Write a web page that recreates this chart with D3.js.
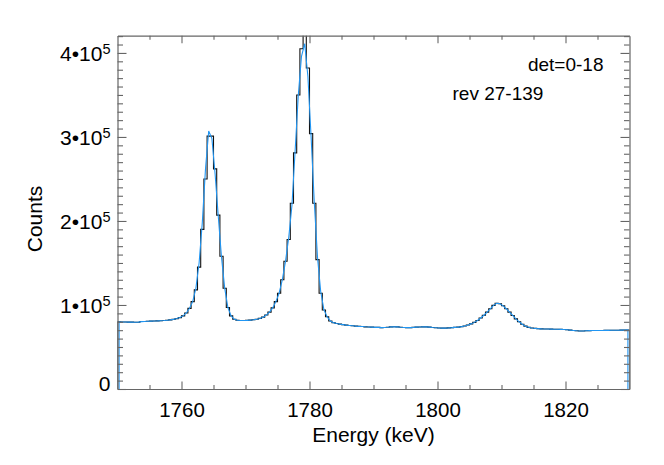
<!DOCTYPE html>
<html>
<head>
<meta charset="utf-8">
<script src="https://cdn.jsdelivr.net/npm/d3@7"></script>
<style>
  html, body { margin: 0; padding: 0; background: #fff; }
  svg { display: block; font-family: "Liberation Sans", Arial, Helvetica, sans-serif; }
</style>
</head>
<body>
<svg id="chart" width="664" height="465"></svg>
<script>
// ---------------- data ----------------
const binStart = 1750;      // keV, left edge of first bin
const binWidth = 0.5;       // keV
// histogram counts per 0.5 keV bin, 1750.0 ... 1829.5 (left edges)
const counts = [
  80000, 79800, 79700, 79600, 79600, 79500, 79400, 80300, 80400, 80600,   // 1750-1754.5
  80800, 81000, 81100, 81300, 81500, 81800, 82300, 82900, 83800, 85000,   // 1755-1759.5
  87000, 90500, 96000, 104000, 118000, 145000, 190000, 250000, 301000, 301000, // 1760-1764.5
  262000, 207000, 158000, 120000, 97000, 87000, 83000, 81800, 81500, 81500,  // 1765-1769.5
  81700, 82000, 82400, 83000, 84000, 85500, 88000, 91500, 96500, 104000,    // 1770-1774.5
  114000, 130000, 152000, 178000, 221000, 281000, 350000, 405000, 445000, 382000, // 1775-1779.5
  304000, 221000, 154000, 114000, 94000, 86000, 81000, 79000, 78000, 77200, // 1780-1784.5
  76600, 76000, 75600, 75200, 74800, 74500, 74300, 74000, 73800, 73600,     // 1785-1789.5
  73400, 73300, 73100, 73200, 73500, 73900, 74100, 73900, 73500, 73200,     // 1790-1794.5
  73000, 73100, 73300, 73600, 73800, 74000, 73900, 73600, 73200, 72900,     // 1795-1799.5
  72600, 72400, 72500, 72700, 73000, 73400, 73600, 74200, 75000, 76200,     // 1800-1804.5
  77500, 79300, 81500, 84500, 87800, 91500, 95500, 99500, 102000, 101500,   // 1805-1809.5
  99000, 95500, 91500, 87500, 83500, 80000, 77000, 74800, 73400, 72600,     // 1810-1814.5
  72100, 71800, 71600, 71500, 71400, 71300, 71200, 71100, 71000, 70800,     // 1815-1819.5
  70500, 70100, 69700, 69300, 69000, 69100, 69300, 69500, 69600, 69600,     // 1820-1824.5
  69700, 69700, 69800, 69800, 69900, 69900, 70000, 70100, 70200, 70300      // 1825-1829.5
];
// fitted model evaluated at bin centres 1750.25 ... 1829.75
const fit = [
  80000, 79800, 79700, 79600, 79600, 79500, 79600, 80200, 80400, 80600,
  80800, 81000, 81100, 81300, 81500, 81800, 82300, 82900, 83800, 85000,
  87000, 90500, 96000, 104000, 120000, 150000, 198000, 262000, 307000, 298000,
  256000, 205000, 157000, 120000, 97000, 87000, 83000, 81800, 81500, 81500,
  81700, 82000, 82400, 83000, 84000, 85500, 88000, 91500, 96500, 104000,
  114000, 130000, 152000, 180000, 218000, 283000, 350000, 396000, 411000, 372000,
  300000, 222000, 157000, 116000, 94500, 86000, 81000, 79000, 78000, 77200,
  76600, 76000, 75600, 75200, 74800, 74500, 74300, 74000, 73800, 73600,
  73400, 73300, 73100, 73200, 73500, 73900, 74100, 73900, 73500, 73200,
  73000, 73100, 73300, 73600, 73800, 74000, 73900, 73600, 73200, 72900,
  72600, 72400, 72500, 72700, 73000, 73400, 73600, 74200, 75000, 76200,
  77500, 79300, 81500, 84500, 87800, 91500, 95500, 99500, 102000, 101500,
  99000, 95500, 91500, 87500, 83500, 80000, 77000, 74800, 73400, 72600,
  72100, 71800, 71600, 71500, 71400, 71300, 71200, 71100, 71000, 70800,
  70500, 70100, 69700, 69300, 69000, 69100, 69300, 69500, 69600, 69600,
  69700, 69700, 69800, 69800, 69900, 69900, 70000, 70100, 70200, 70300
];
const xMajorTicks = [1760, 1780, 1800, 1820];
const xMinorTicks = [1755, 1765, 1770, 1775, 1785, 1790, 1795, 1805, 1810, 1815, 1825];
const yMajorTicks = [0, 100000, 200000, 300000, 400000];
const yMinorStep = 10000;
const xDomain = [1750, 1830];
const yDomain = [0, 420500];
const xTitle = "Energy (keV)";
const yTitle = "Counts";
const notes = ["det=0-18", "rev 27-139"];

// ---------------- layout ----------------
const svg = d3.select("#chart");
const L = 117.5, R = 629.5, T = 35.7, B = 389;
const x = d3.scaleLinear().domain(xDomain).range([L, R]);
const y = d3.scaleLinear().domain(yDomain).range([B, T]);
const axisColor = "#666";

svg.append("defs").append("clipPath").attr("id", "clip")
  .append("rect").attr("x", L).attr("y", T).attr("width", R - L).attr("height", B - T);

// histogram step path
const nb = counts.length;
const stepPts = [{e: binStart, v: 0}];
counts.forEach((c, i) => stepPts.push({e: binStart + i * binWidth, v: c}));
stepPts.push({e: binStart + nb * binWidth, v: counts[nb - 1]});
stepPts.push({e: binStart + nb * binWidth, v: 0});

const plot = svg.append("g").attr("clip-path", "url(#clip)");
plot.append("path")
  .datum(stepPts)
  .attr("fill", "none")
  .attr("stroke", "#111")
  .attr("stroke-width", 1.1)
  .attr("d", d3.line().x(d => x(d.e)).y(d => y(d.v)).curve(d3.curveStepAfter));

// fit line
const fitPts = [{e: binStart + binWidth / 2, v: 0}];
fit.forEach((f, i) => fitPts.push({e: binStart + (i + 0.5) * binWidth, v: f}));
fitPts.push({e: binStart + (nb - 0.5) * binWidth, v: 0});
plot.append("path")
  .datum(fitPts)
  .attr("fill", "none")
  .attr("stroke", "#2196f3")
  .attr("stroke-width", 1.1)
  .attr("d", d3.line().x(d => x(d.e)).y(d => y(d.v)));

// ---------------- axes ----------------
function styleAxis(g) {
  g.select(".domain").attr("stroke", axisColor).attr("stroke-width", 1.2);
  g.selectAll(".tick line").attr("stroke", axisColor).attr("stroke-width", 1.1);
}
const yMinorTicks = d3.range(0, yDomain[1], yMinorStep).filter(v => v % 100000 !== 0);

// bottom
const gxb = svg.append("g").attr("transform", `translate(0,${B})`)
  .call(d3.axisBottom(x).tickValues(xMajorTicks).tickSizeInner(-7.5).tickSizeOuter(0)
    .tickPadding(13).tickFormat(d3.format("d")));
gxb.selectAll("text").attr("font-size", 20.5).attr("fill", "#000")
  .attr("font-family", "Liberation Sans, Arial, sans-serif");
styleAxis(gxb);
const gxbm = svg.append("g").attr("transform", `translate(0,${B})`)
  .call(d3.axisBottom(x).tickValues(xMinorTicks).tickSizeInner(-4).tickSizeOuter(0).tickFormat(""));
styleAxis(gxbm); gxbm.select(".domain").remove();

// top
const gxt = svg.append("g").attr("transform", `translate(0,${T})`)
  .call(d3.axisTop(x).tickValues(xMajorTicks).tickSizeInner(-7.5).tickSizeOuter(0).tickFormat(""));
styleAxis(gxt);
const gxtm = svg.append("g").attr("transform", `translate(0,${T})`)
  .call(d3.axisTop(x).tickValues(xMinorTicks).tickSizeInner(-4).tickSizeOuter(0).tickFormat(""));
styleAxis(gxtm); gxtm.select(".domain").remove();

// left
const gyl = svg.append("g").attr("transform", `translate(${L},0)`)
  .call(d3.axisLeft(y).tickValues(yMajorTicks).tickSizeInner(-9).tickSizeOuter(0).tickPadding(7)
    .tickFormat(d => d === 0 ? "0" : String(d / 100000)));
styleAxis(gyl);
gyl.selectAll(".tick text").each(function(d) {
  const t = d3.select(this);
  t.attr("font-size", 21).attr("fill", "#000").attr("dy", "0.37em")
   .attr("font-family", "Liberation Sans, Arial, sans-serif");
  if (d === 0) { t.text("0").attr("dy", "0.08em"); return; }
  const m = d / 100000;
  t.text(null);
  t.append("tspan").text(m + "\u202210");
  t.append("tspan").text("5").attr("font-size", 14.5).attr("dy", "-0.47em");
});
const gylm = svg.append("g").attr("transform", `translate(${L},0)`)
  .call(d3.axisLeft(y).tickValues(yMinorTicks).tickSizeInner(-5.5).tickSizeOuter(0).tickFormat(""));
styleAxis(gylm); gylm.select(".domain").remove();

// right
const gyr = svg.append("g").attr("transform", `translate(${R},0)`)
  .call(d3.axisRight(y).tickValues(yMajorTicks).tickSizeInner(-9).tickSizeOuter(0).tickFormat(""));
styleAxis(gyr);
const gyrm = svg.append("g").attr("transform", `translate(${R},0)`)
  .call(d3.axisRight(y).tickValues(yMinorTicks).tickSizeInner(-5.5).tickSizeOuter(0).tickFormat(""));
styleAxis(gyrm); gyrm.select(".domain").remove();

// ---------------- titles ----------------
svg.append("text").attr("x", (L + R) / 2).attr("y", 441.5)
  .attr("text-anchor", "middle").attr("font-size", 21).attr("fill", "#000").text(xTitle);
svg.append("text").attr("transform", `translate(42,219) rotate(-90)`)
  .attr("text-anchor", "middle").attr("font-size", 21).attr("fill", "#000").text(yTitle);

svg.append("text").attr("x", 603.5).attr("y", 70.5).attr("text-anchor", "end")
  .attr("font-size", 19).attr("fill", "#000").text(notes[0]);
svg.append("text").attr("x", 452.5).attr("y", 100).attr("text-anchor", "start")
  .attr("font-size", 19).attr("fill", "#000").text(notes[1]);
</script>
</body>
</html>
